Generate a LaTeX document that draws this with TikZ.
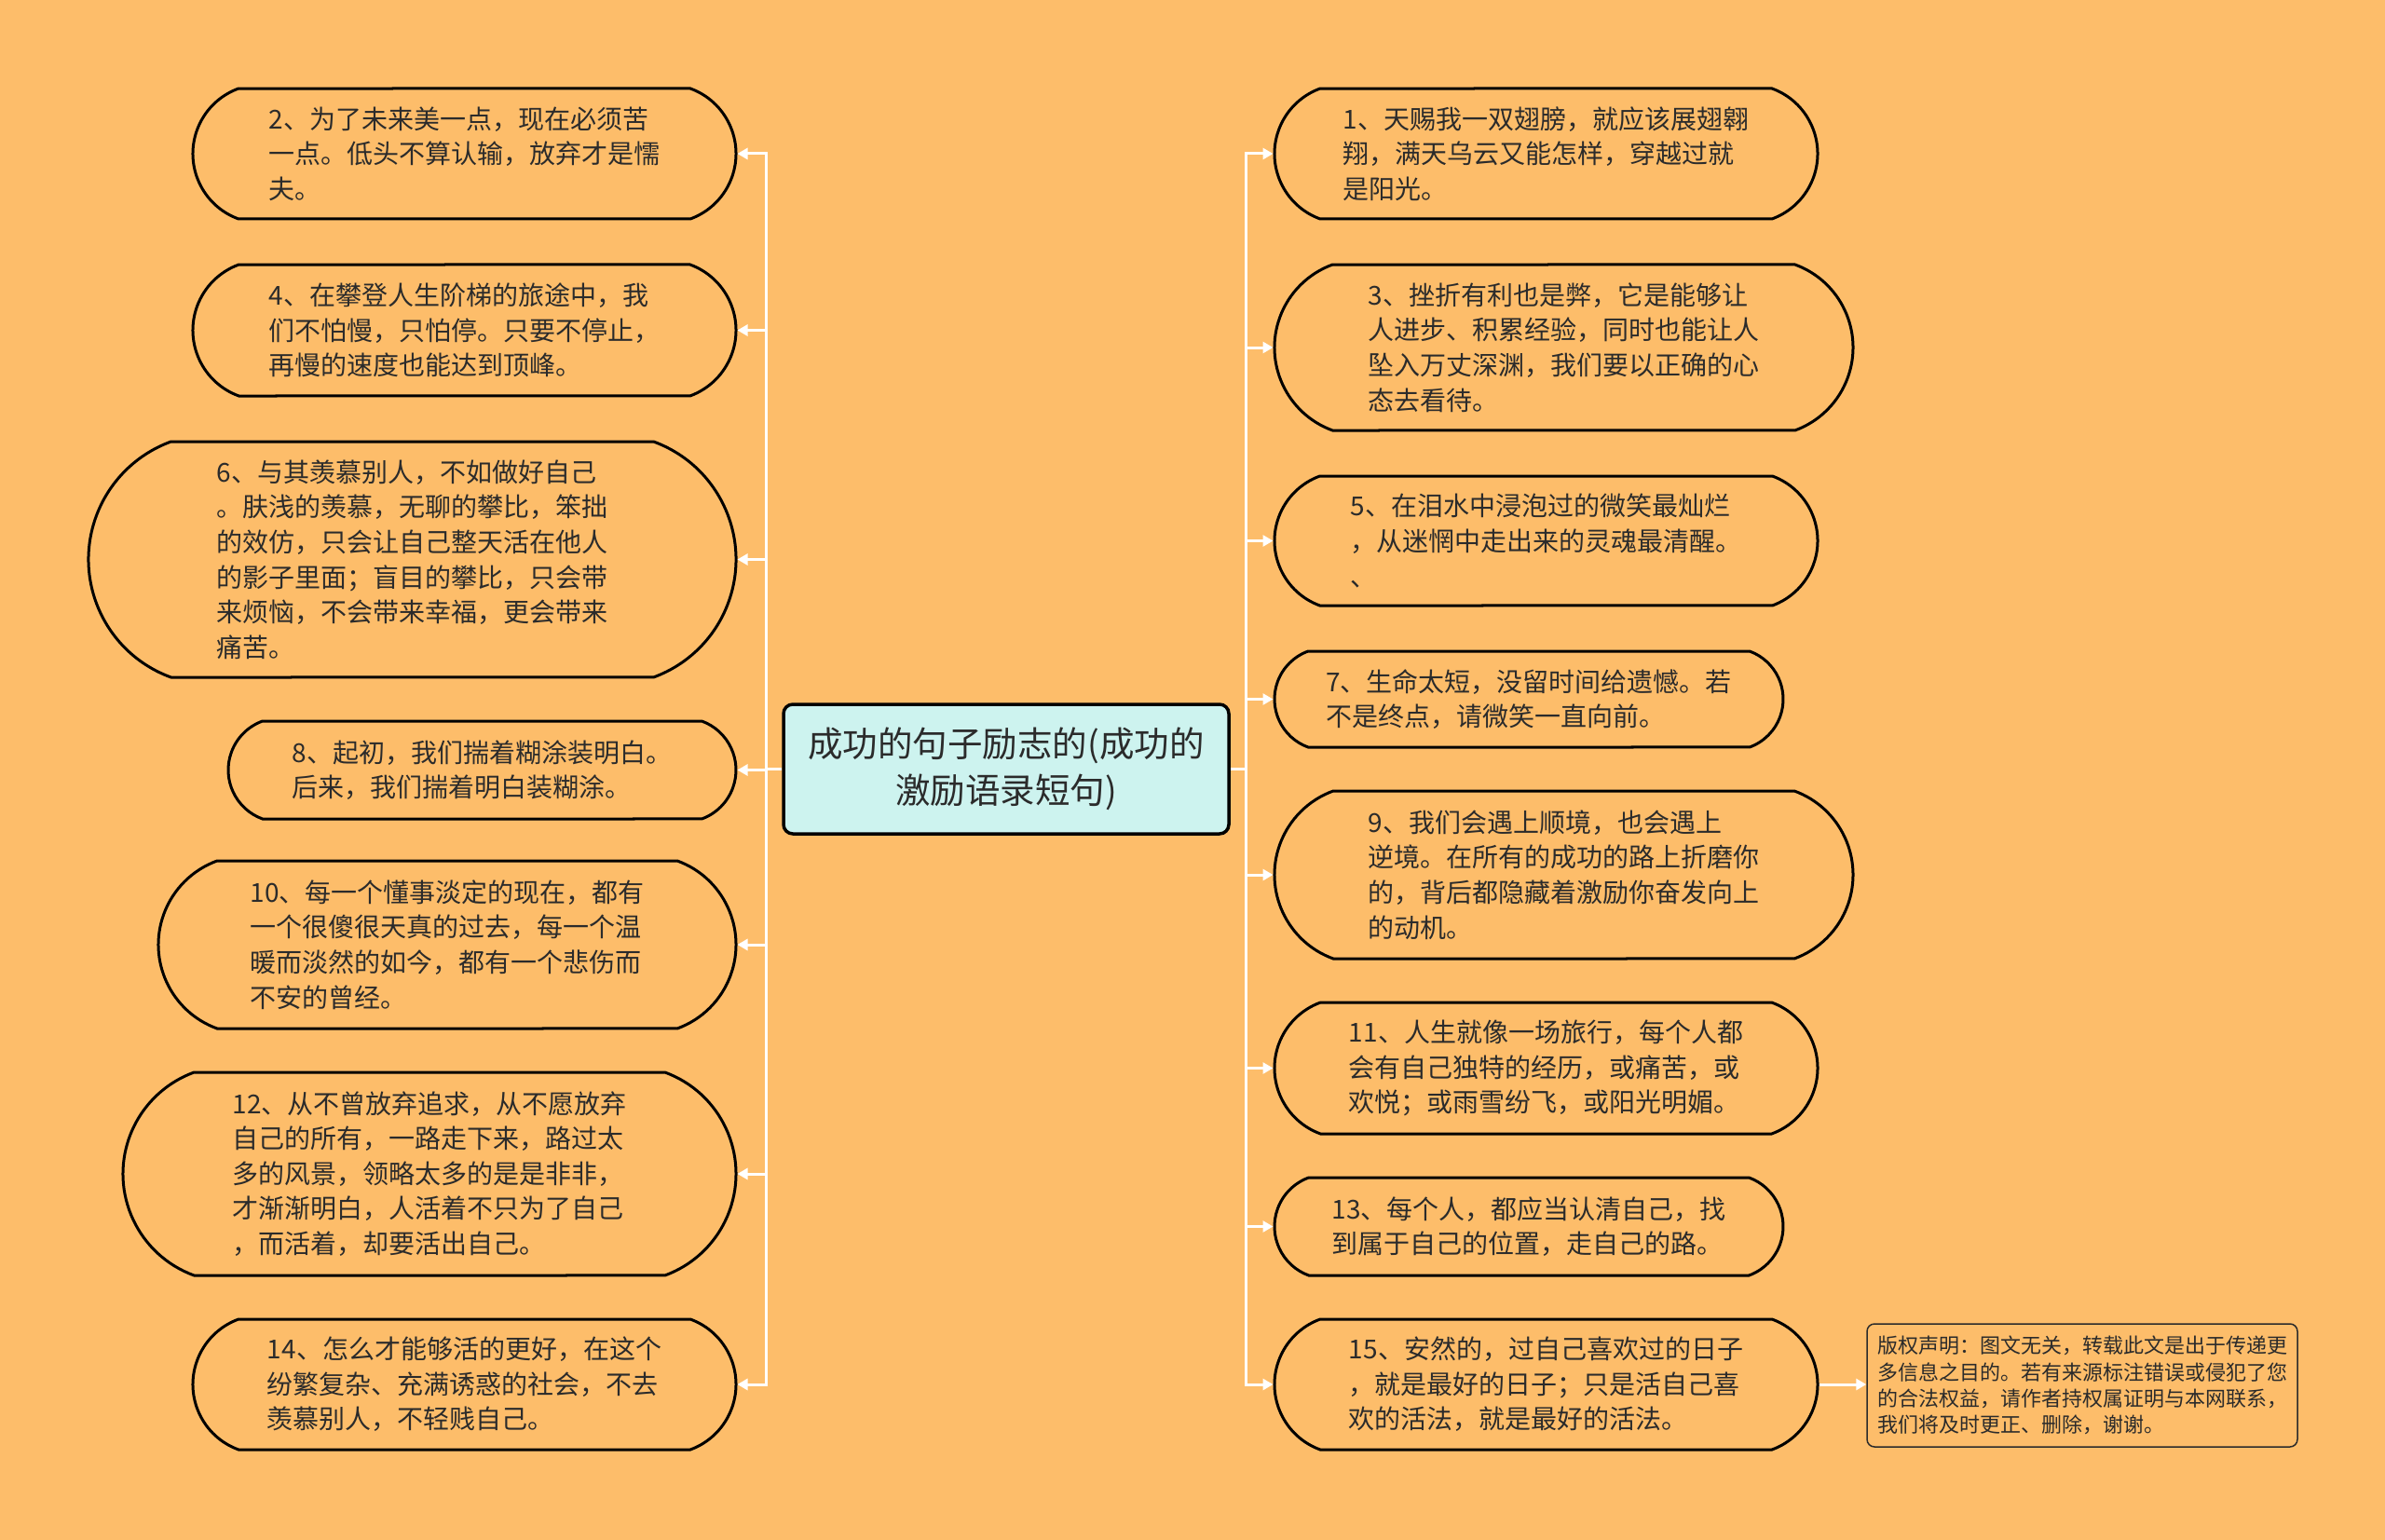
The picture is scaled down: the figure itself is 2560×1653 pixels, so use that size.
\documentclass[tikz,border=0pt]{standalone}
\usepackage{fontspec}
\usetikzlibrary{arrows.meta,positioning,shapes.misc}
\setmainfont{Noto Sans CJK SC}
\newfontfamily\cjk{Noto Sans CJK SC}
\definecolor{bg}{HTML}{FDBD6A}
\definecolor{mint}{HTML}{CDF3EF}
\definecolor{ink}{HTML}{2B2B2B}

\begin{document}
\begin{tikzpicture}[x=1pt,y=-1pt,
  leaf/.style={draw=black,line width=3pt,shape=rounded rectangle,rounded rectangle arc length=140,
    align=left,text=ink,inner sep=0pt,font=\cjk\fontsize{28}{37.6}\selectfont},
  link/.style={draw=white,line width=3pt},
  tip/.style={-{Triangle[length=11pt,width=12pt]}}]
\fill[bg] (0,0) rectangle (2560,1653);
\node[draw=black,line width=3.5pt,fill=mint,rounded corners=10pt,minimum width=478pt,minimum height=139pt,
  align=center,text=ink,font=\cjk\fontsize{37.5}{50.6}\selectfont] (root) at (1080,825.5)
  {成功的句子励志的(成功的\\激励语录短句)};
% left side
\node[leaf,minimum width=583pt,minimum height=140pt] (n2) at (498.5,165)
  {2、为了未来美一点，现在必须苦\\一点。低头不算认输，放弃才是懦\\夫。};
\node[leaf,minimum width=583pt,minimum height=141pt] (n4) at (498.5,354.5)
  {4、在攀登人生阶梯的旅途中，我\\们不怕慢，只怕停。只要不停止，\\再慢的速度也能达到顶峰。};
\node[leaf,minimum width=695pt,minimum height=253pt] (n6) at (442.5,600.5)
  {6、与其羡慕别人，不如做好自己\\。肤浅的羡慕，无聊的攀比，笨拙\\的效仿，只会让自己整天活在他人\\的影子里面；盲目的攀比，只会带\\来烦恼，不会带来幸福，更会带来\\痛苦。};
\node[leaf,minimum width=545pt,minimum height=105pt] (n8) at (517.5,826.5)
  {8、起初，我们揣着糊涂装明白。\\后来，我们揣着明白装糊涂。};
\node[leaf,minimum width=620pt,minimum height=180pt] (n10) at (480,1014)
  {10、每一个懂事淡定的现在，都有\\一个很傻很天真的过去，每一个温\\暖而淡然的如今，都有一个悲伤而\\不安的曾经。};
\node[leaf,minimum width=658pt,minimum height=218pt] (n12) at (461,1260)
  {12、从不曾放弃追求，从不愿放弃\\自己的所有，一路走下来，路过太\\多的风景，领略太多的是是非非，\\才渐渐明白，人活着不只为了自己\\，而活着，却要活出自己。};
\node[leaf,minimum width=583pt,minimum height=140pt] (n14) at (498.5,1486)
  {14、怎么才能够活的更好，在这个\\纷繁复杂、充满诱惑的社会，不去\\羡慕别人，不轻贱自己。};
% right side
\node[leaf,minimum width=583pt,minimum height=140pt] (n1) at (1659.5,165)
  {1、天赐我一双翅膀，就应该展翅翱\\翔，满天乌云又能怎样，穿越过就\\是阳光。};
\node[leaf,minimum width=621pt,minimum height=178pt] (n3) at (1678.5,373)
  {3、挫折有利也是弊，它是能够让\\人进步、积累经验，同时也能让人\\坠入万丈深渊，我们要以正确的心\\态去看待。};
\node[leaf,minimum width=583pt,minimum height=139pt] (n5) at (1659.5,580.5)
  {5、在泪水中浸泡过的微笑最灿烂\\，从迷惘中走出来的灵魂最清醒。\\、};
\node[leaf,minimum width=546pt,minimum height=103pt] (n7) at (1641,750.5)
  {7、生命太短，没留时间给遗憾。若\\不是终点，请微笑一直向前。};
\node[leaf,minimum width=621pt,minimum height=180pt] (n9) at (1678.5,939)
  {9、我们会遇上顺境，也会遇上\\逆境。在所有的成功的路上折磨你\\的，背后都隐藏着激励你奋发向上\\的动机。};
\node[leaf,minimum width=583pt,minimum height=141pt] (n11) at (1659.5,1146.5)
  {11、人生就像一场旅行，每个人都\\会有自己独特的经历，或痛苦，或\\欢悦；或雨雪纷飞，或阳光明媚。};
\node[leaf,minimum width=546pt,minimum height=105pt] (n13) at (1641,1316.5)
  {13、每个人，都应当认清自己，找\\到属于自己的位置，走自己的路。};
\node[leaf,minimum width=583pt,minimum height=140pt] (n15) at (1659.5,1486)
  {15、安然的，过自己喜欢过的日子\\，就是最好的日子；只是活自己喜\\欢的活法，就是最好的活法。};
\node[draw=ink,line width=1.5pt,rounded corners=8pt,minimum width=462pt,minimum height=132pt,
  align=left,text=ink,font=\cjk\fontsize{22}{28.3}\selectfont] (note) at (2235,1487)
  {版权声明：图文无关，转载此文是出于传递更\\多信息之目的。若有来源标注错误或侵犯了您\\的合法权益，请作者持权属证明与本网联系，\\我们将及时更正、删除，谢谢。};
% connectors
\coordinate (lj) at (822,825.5);
\coordinate (rj) at (1337,825.5);
\draw[link] (root.west) -- (lj);
\draw[link] (root.east) -- (rj);
\foreach \n in {2,4,6,8,10,12,14}\draw[link,tip] (lj) |- (n\n.east);
\foreach \n in {1,3,5,7,9,11,13,15}\draw[link,tip] (rj) |- (n\n.west);
\draw[link,tip] (n15.east) -- (n15.east -| note.west);
\end{tikzpicture}
\end{document}
